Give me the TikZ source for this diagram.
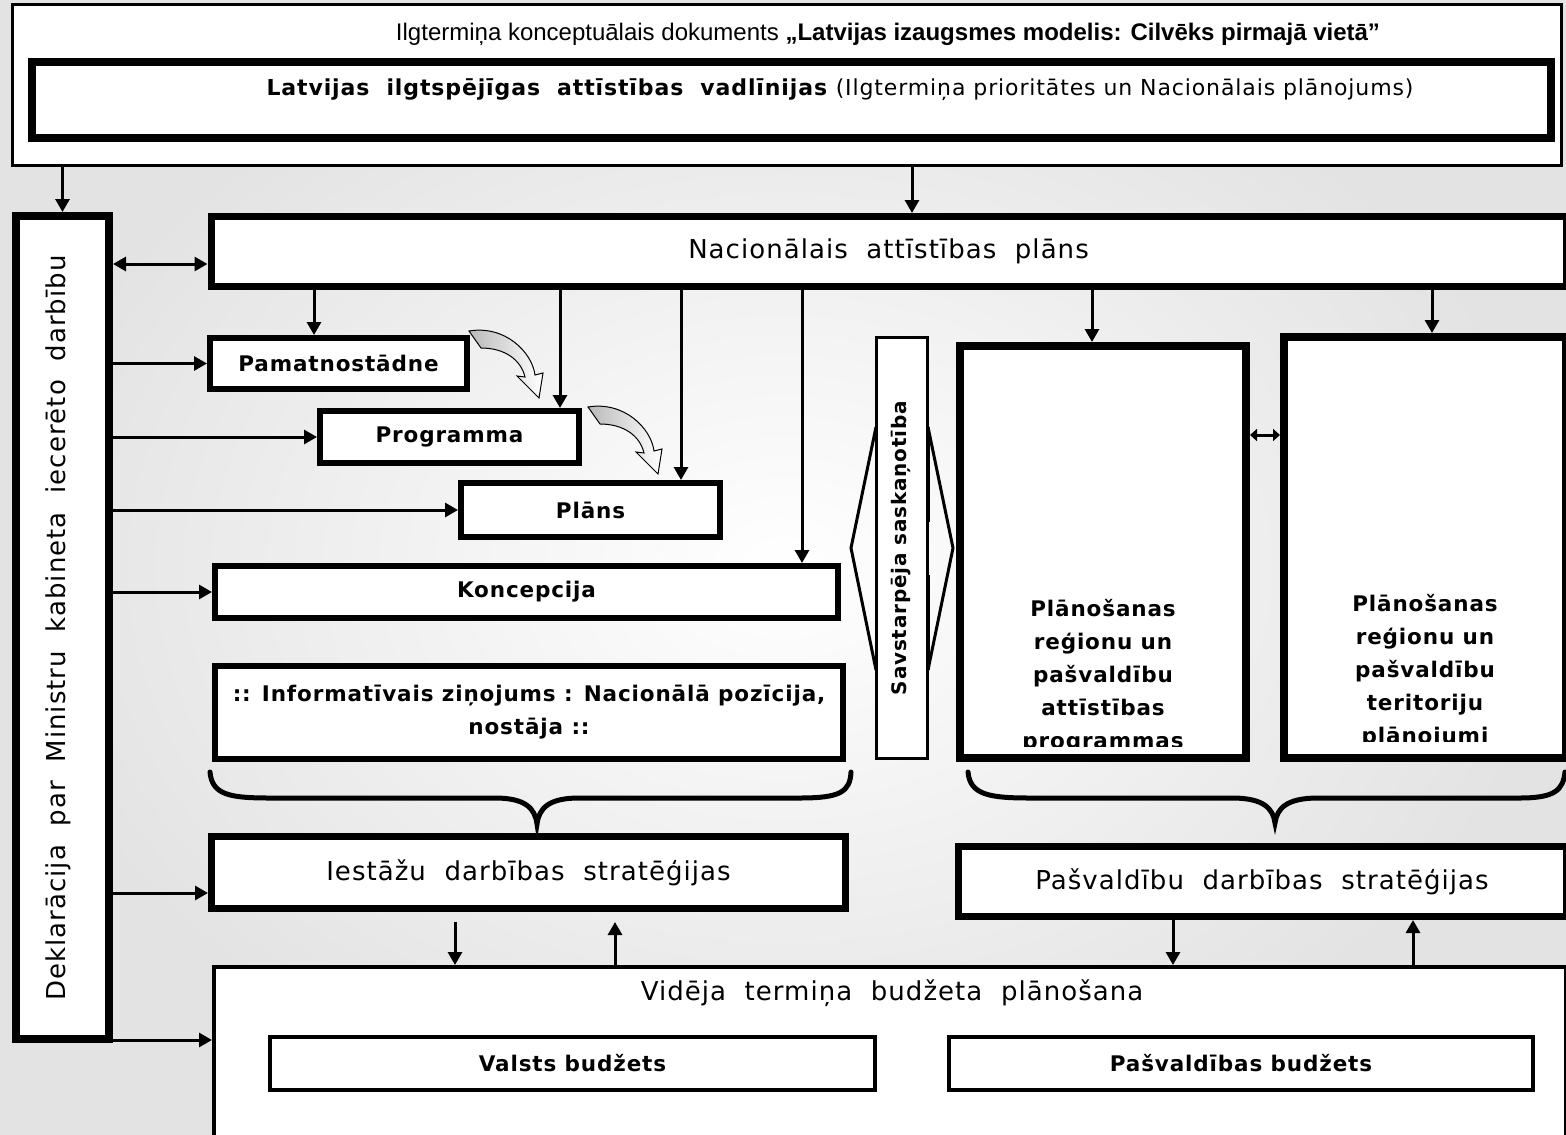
\documentclass[tikz,border=0pt]{standalone}
\usepackage{fontspec}
\setmainfont{DejaVu Sans}
\newfontfamily\pixfont[LetterSpace=4]{DejaVu Sans}
\newfontfamily\arialfont{Liberation Sans}
\usetikzlibrary{arrows.meta}

\tikzset{
  box/.style={draw, fill=white, inner sep=0pt, align=center, line width=#1},
  box/.default=6pt,
  big/.style={font=\pixfont\fontsize{26}{30}\selectfont},
  sml/.style={align=center, font=\pixfont\bfseries\fontsize{21.5}{33}\selectfont},
  arr/.style={line width=3pt, -{Triangle[length=13pt,width=14pt]}},
  arrs/.style={line width=3pt, {Triangle[length=13pt,width=14pt]}-{Triangle[length=13pt,width=14pt]}},
  brc/.style={line width=5pt, line cap=round},
  curv/.style={draw=black, line width=1pt, left color=gray!55, right color=white},
}

\begin{document}
\begin{tikzpicture}[x=1pt, y=-1pt]
    \useasboundingbox (0,0) rectangle (1566,1135);
    \clip (0,0) rectangle (1566,1135);
    \shade[inner color=white, outer color=gray!22] (0,0) rectangle (1566,1135);

    % top documents
    \node[box=3pt, minimum width=1549pt, minimum height=161pt] (dok) at (787,85) {};
    \node[font=\arialfont\fontsize{24}{28}\selectfont] (dokt) at (888,34)
      {Ilgtermiņa konceptuālais dokuments \textbf{„Latvijas izaugsmes modelis: Cilvēks pirmajā vietā”}};
    \node[box=8pt, minimum width=1519pt, minimum height=76pt] (vadl) at (791.5,100) {};
    \node[font=\pixfont\fontsize{22}{26}\selectfont] (vadlt) at (840,90)
      {\textbf{Latvijas~ ilgtspējīgas~ attīstības~ vadlīnijas} (Ilgtermiņa prioritātes un Nacionālais plānojums)};

    % left column
    \node[box=8pt, minimum width=93pt, minimum height=823pt] (dekl) at (62.5,627.5) {};
    \node[big, rotate=90] (deklt) at (58,628) {Deklarācija~ par~ Ministru~ kabineta~ iecerēto~ darbību};

    % national level
    \node[box=7pt, big, minimum width=1355pt, minimum height=70pt] (nap) at (888.5,251.5) {Nacionālais~ attīstības~ plāns};
    \node[box, sml, minimum width=257pt, minimum height=51pt] (pam) at (338.5,363.5) {Pamatnostādne};
    \node[box, sml, minimum width=259pt, minimum height=52pt] (prog) at (449.5,437) {Programma};
    \node[box, sml, minimum width=259pt, minimum height=54pt] (plans) at (590.5,510) {Plāns};
    \node[box, sml, minimum width=623pt, minimum height=52pt] (konc) at (526.5,592) {Koncepcija};
    \node[box, sml, minimum width=628pt, minimum height=93pt] (info) at (529,712.5)
      {:: Informatīvais ziņojums : Nacionālā pozīcija,\\nostāja ::};

    % coordination
    \node[box=3pt, minimum width=51pt, minimum height=421pt] (savst) at (902,548) {};
    \node[font=\pixfont\bfseries\fontsize{20}{22}\selectfont, rotate=90] (savstt) at (901,548) {Savstarpēja saskaņotība};
    \draw[line width=3pt] (876,427) -- (851,548) -- (876,670);
    \draw[line width=3pt] (928,427) -- (953,548) -- (928,670);
    \draw[line width=3pt] (876,427) -- (876,522) (876,575) -- (876,670);
    \draw[line width=3pt] (928,427) -- (928,522) (928,575) -- (928,670);

    % regional level
    \node[box=8pt, minimum width=286pt, minimum height=412pt] (pr) at (1103,552) {};
    \node[box=8pt, minimum width=282pt, minimum height=421pt] (terr) at (1425,547.5) {};
    \begin{scope}
      \clip (950,330) rectangle (1265,746);
      \node[sml] (prt) at (1103,676) {Plānošanas\\reģionu un\\pašvaldību\\attīstības\\programmas};
    \end{scope}
    \begin{scope}
      \clip (1270,330) rectangle (1566,741);
      \node[sml] (terrt) at (1425,671) {Plānošanas\\reģionu un\\pašvaldību\\teritoriju\\plānojumi};
    \end{scope}

    % strategies and budget
    \node[box=7pt, big, minimum width=634pt, minimum height=72pt] (iest) at (528.5,872.5) {Iestāžu~ darbības~ stratēģijas};
    \node[box=7pt, big, minimum width=608pt, minimum height=70pt] (pdarb) at (1262,881.5) {Pašvaldību~ darbības~ stratēģijas};
    \node[box=4pt, minimum width=1352pt, minimum height=171pt] (vid) at (890,1052.5) {};
    \node[big] (vidt) at (892,993) {Vidēja~ termiņa~ budžeta~ plānošana};
    \node[box=4pt, sml, minimum width=605pt, minimum height=53pt] (valsts) at (572.5,1063.5) {Valsts budžets};
    \node[box=4pt, sml, minimum width=584pt, minimum height=53pt] (pbudz) at (1241,1063.5) {Pašvaldības budžets};

    % arrows
    \draw[arr] (dok.south -| dekl.north) -- (dekl.north);
    \draw[arr] (dok.south -| 912,0) -- (912,0 |- nap.north);
    \draw[arrs] (dekl.east |- 0,264) -- (nap.west |- 0,264);
    \draw[arr] (dekl.east |- pam.west) -- (pam.west);
    \draw[arr] (dekl.east |- prog.west) -- (prog.west);
    \draw[arr] (dekl.east |- plans.west) -- (plans.west);
    \draw[arr] (dekl.east |- konc.west) -- (konc.west);
    \draw[arr] (dekl.east |- 0,893) -- (iest.west |- 0,893);
    \draw[arr] (dekl.east |- 0,1040) -- (vid.west |- 0,1040);
    \draw[arr] (nap.south -| 314,0) -- (314,0 |- pam.north);
    \draw[arr] (nap.south -| 560,0) -- (560,0 |- prog.north);
    \draw[arr] (nap.south -| 681,0) -- (681,0 |- plans.north);
    \draw[arr] (nap.south -| 802,0) -- (802,0 |- konc.north);
    \draw[arr] (nap.south -| 1092,0) -- (1092,0 |- pr.north);
    \draw[arr] (nap.south -| 1432,0) -- (1432,0 |- terr.north);
    \draw[line width=3pt, {Triangle[length=7pt,width=12pt]}-{Triangle[length=7pt,width=12pt]}]
      (pr.east |- 0,435) -- (terr.west |- 0,435);
    \draw[arr, shorten <=10pt] (iest.south -| 455,0) -- (455,0 |- vid.north);
    \draw[arr, shorten >=10pt] (vid.north -| 615,0) -- (615,0 |- iest.south);
    \draw[arr] (pdarb.south -| 1173,0) -- (1173,0 |- vid.north);
    \draw[arr] (vid.north -| 1413,0) -- (1413,0 |- pdarb.south);

    % curved arrows
    \path[curv] (469,331) .. controls (505,325) and (532,352) .. (535,375) -- (543,373) -- (539,398)
      -- (517,376) -- (525,377) .. controls (521,360) and (505,348) .. (481,348) -- cycle;
    \path[curv, shift={(119,76)}] (469,331) .. controls (505,325) and (532,352) .. (535,375) -- (543,373) -- (539,398)
      -- (517,376) -- (525,377) .. controls (521,360) and (505,348) .. (481,348) -- cycle;

    % braces
    \draw[brc] (210,772) .. controls (212,795) and (230,798) .. (270,798) -- (495,798)
      .. controls (525,798) and (535,808) .. (537,824) .. controls (539,808) and (549,798) .. (579,798)
      -- (800,798) .. controls (840,798) and (850,792) .. (851,772);
    \draw[brc] (968,772) .. controls (970,795) and (990,798) .. (1030,798) -- (1232,798)
      .. controls (1263,798) and (1273,808) .. (1275,823) .. controls (1277,808) and (1287,798) .. (1318,798)
      -- (1520,798) .. controls (1555,798) and (1563,790) .. (1565,772);
\end{tikzpicture}
\end{document}
